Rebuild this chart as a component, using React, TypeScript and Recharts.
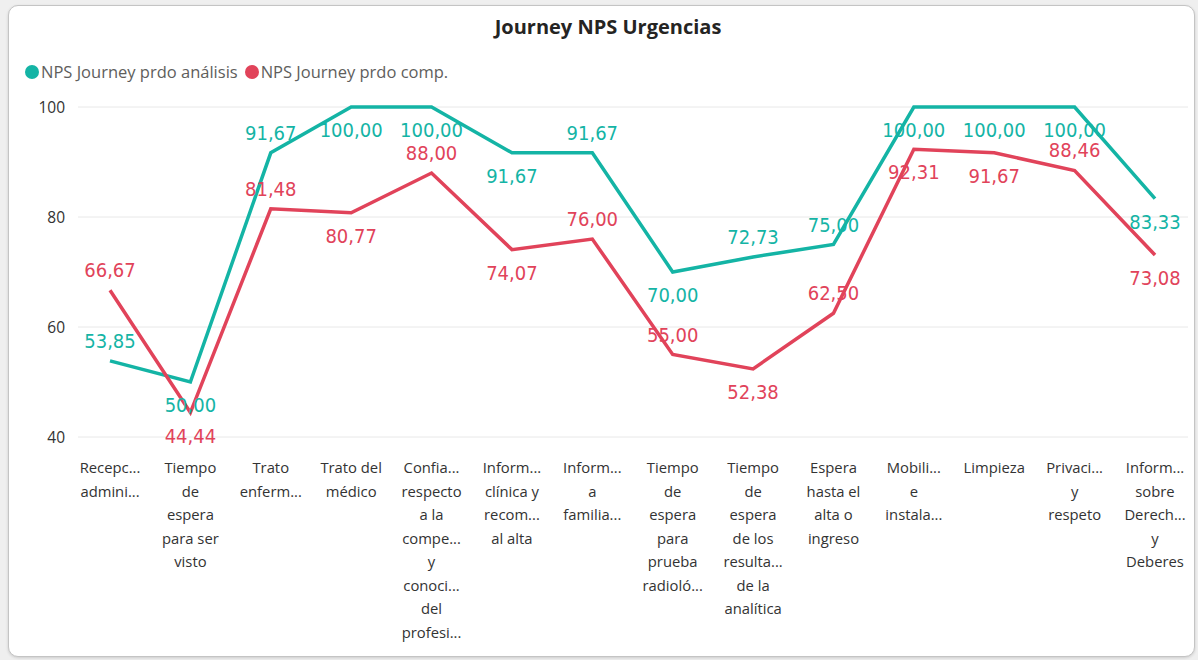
import React from 'react'
import { LineChart, Line, XAxis, YAxis, CartesianGrid } from 'recharts'

const categories = [
  'Recepción administrativa',
  'Tiempo de espera para ser visto',
  'Trato enfermería',
  'Trato del médico',
  'Confianza respecto a la competencia y conocimiento del profesional',
  'Información clínica y recomendaciones al alta',
  'Información a familiares',
  'Tiempo de espera para prueba radiológica',
  'Tiempo de espera de los resultados de la analítica',
  'Espera hasta el alta o ingreso',
  'Mobiliario e instalaciones',
  'Limpieza',
  'Privacidad y respeto',
  'Información sobre Derechos y Deberes',
]

// texto tal como se ve en el eje (cortado por Power BI)
const tickLines = [
  ['Recepc...', 'admini...'],
  ['Tiempo', 'de', 'espera', 'para ser', 'visto'],
  ['Trato', 'enferm...'],
  ['Trato del', 'médico'],
  ['Confia...', 'respecto', 'a la', 'compe...', 'y', 'conoci...', 'del', 'profesi...'],
  ['Inform...', 'clínica y', 'recom...', 'al alta'],
  ['Inform...', 'a', 'familia...'],
  ['Tiempo', 'de', 'espera', 'para', 'prueba', 'radioló...'],
  ['Tiempo', 'de', 'espera', 'de los', 'resulta...', 'de la', 'analítica'],
  ['Espera', 'hasta el', 'alta o', 'ingreso'],
  ['Mobili...', 'e', 'instala...'],
  ['Limpieza'],
  ['Privaci...', 'y', 'respeto'],
  ['Inform...', 'sobre', 'Derech...', 'y', 'Deberes'],
]

const npsAnalisis = [53.85, 50.0, 91.67, 100, 100, 91.67, 91.67, 70.0, 72.73, 75.0, 100, 100, 100, 83.33]
const npsComp = [66.67, 44.44, 81.48, 80.77, 88.0, 74.07, 76.0, 55.0, 52.38, 62.5, 92.31, 91.67, 88.46, 73.08]

const yTicks = [40, 60, 80, 100]

// colocación de etiquetas de datos (arriba / abajo del punto)
const placeAnalisis = ['up', 'down', 'up', 'down', 'down', 'down', 'up', 'down', 'up', 'up', 'down', 'down', 'down', 'down']
const placeComp = ['up', 'down', 'up', 'down', 'up', 'down', 'up', 'up', 'down', 'up', 'down', 'down', 'up', 'down']

const TEAL = '#14B4A5'
const RED = '#E1435A'

const chartData = categories.map((c, i) => ({
  name: c,
  analisis: npsAnalisis[i],
  comp: npsComp[i],
}))

const fmt = (v: number) => v.toFixed(2).replace('.', ',')

const makeLabel = (color: string, place: string[]) => (props: any) => {
  const { x, y, value, index } = props
  if (value == null) return null
  const dy = place[index] === 'up' ? -20 : 23
  return (
    <text
      key={index}
      x={x}
      y={y + dy}
      fill={color}
      textAnchor="middle"
      dominantBaseline="central"
      fontSize={20}
      style={{ fontFamily: "'DejaVu Sans Condensed', 'DejaVu Sans'", fontStretch: 'condensed' }}
    >
      {fmt(value)}
    </text>
  )
}

const XTick = (props: any) => {
  const { x, y, index } = props
  const lines = tickLines[index] || []
  return (
    <text x={x} y={y} textAnchor="middle" fill="#333333" fontSize={14.8} style={{ fontFamily: "'Open Sans', sans-serif" }}>
      {lines.map((l, i) => (
        <tspan key={i} x={x} y={y + 36 + i * 23.5}>
          {l}
        </tspan>
      ))}
    </text>
  )
}

export default function App() {
  return (
    <div style={{ position: 'relative', width: 1198, height: 660, background: '#efefef', fontFamily: "'Open Sans', sans-serif" }}>
      <style>{'body{margin:0}'}</style>
      <div
        style={{
          position: 'absolute',
          left: 8,
          top: 5,
          width: 1185,
          height: 650,
          background: '#fff',
          border: '1px solid #c4c4c4',
          borderRadius: 10,
          boxShadow: '0 1px 3px rgba(0,0,0,0.15)',
        }}
      />
      <div
        style={{
          position: 'absolute',
          left: 0,
          top: 13,
          width: 1216,
          textAlign: 'center',
          fontSize: 20,
          fontWeight: 700,
          color: '#252423',
        }}
      >
        Journey NPS Urgencias
      </div>
      <div style={{ position: 'absolute', left: 25, top: 60, display: 'flex', alignItems: 'center', fontSize: 16.5, color: '#605E5C' }}>
        <span style={{ width: 14, height: 14, borderRadius: 7, background: TEAL, display: 'inline-block', marginRight: 2 }} />
        <span style={{ marginRight: 7 }}>NPS Journey prdo análisis</span>
        <span style={{ width: 14, height: 14, borderRadius: 7, background: RED, display: 'inline-block', marginRight: 2 }} />
        <span>NPS Journey prdo comp.</span>
      </div>
      <div style={{ position: 'absolute', left: 0, top: 0 }}>
        <LineChart width={1198} height={660} data={chartData} margin={{ top: 107, right: 10, bottom: 23, left: 0 }}>
          <CartesianGrid vertical={false} stroke="#e8e8e8" strokeWidth={1} />
          <XAxis
            dataKey="name"
            axisLine={false}
            tickLine={false}
            tickSize={0}
            tickMargin={0}
            height={200}
            interval={0}
            padding={{ left: 32, right: 33 }}
            tick={<XTick />}
          />
          <YAxis
            domain={[40, 100]}
            ticks={yTicks}
            axisLine={false}
            tickLine={false}
            tickSize={0}
            tickMargin={13}
            width={78}
            tick={{ fill: '#333333', fontSize: 15.5, fontFamily: "'Open Sans', sans-serif" }}
          />
          <Line
            dataKey="analisis"
            stroke={TEAL}
            strokeWidth={3.5}
            dot={false}
            activeDot={false}
            type="linear"
            isAnimationActive={false}
            label={makeLabel(TEAL, placeAnalisis)}
          />
          <Line
            dataKey="comp"
            stroke={RED}
            strokeWidth={3.5}
            dot={false}
            activeDot={false}
            type="linear"
            isAnimationActive={false}
            label={makeLabel(RED, placeComp)}
          />
        </LineChart>
      </div>
    </div>
  )
}
